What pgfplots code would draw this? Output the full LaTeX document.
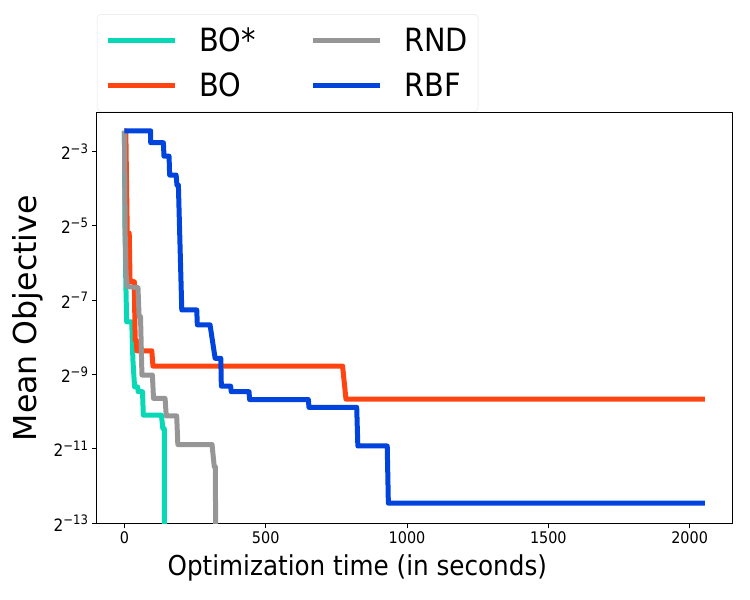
\documentclass[border=0pt]{standalone}
\usepackage{fontspec}
\setmainfont{DejaVu Sans}
\newfontfamily\cond{DejaVu Sans Condensed}
\usepackage{pgfplots}
\pgfplotsset{compat=1.18}
\definecolor{cBOs}{RGB}{8,216,182}
\definecolor{cBO}{RGB}{255,68,17}
\definecolor{cRND}{RGB}{150,150,150}
\definecolor{cRBF}{RGB}{0,68,221}
\pgfplotstableread{
x y
0 -2.44
2 -5.0
5 -6.53
8 -7.58
26 -7.58
30 -8.6
36 -9.33
47 -9.33
49 -9.46
64 -9.46
67 -10.09
131 -10.09
136 -10.45
141 -10.45
143 -20
}\bostar
\pgfplotstableread{
x y
0 -2.44
5 -2.44
10 -5.19
17 -5.19
20 -6.5
35 -6.5
38 -8.07
42 -8.07
44 -8.36
97 -8.36
101 -8.77
772 -8.77
784 -9.66
2054 -9.66
}\bo
\pgfplotstableread{
x y
0 -2.44
3 -5.3
6 -6.3
10 -6.63
48 -6.66
52 -7.44
57 -7.44
62 -9.01
99 -9.01
103 -9.64
144 -9.64
148 -10.11
185 -10.11
189 -10.88
310 -10.88
318 -11.48
322 -11.48
325 -20
}\rnd
\pgfplotstableread{
x y
0 -2.44
93 -2.44
93 -2.76
138 -2.76
140 -3.12
158 -3.12
160 -3.63
183 -3.63
186 -3.90
191 -3.90
203 -7.26
256 -7.26
258 -7.66
303 -7.66
321 -8.56
341 -8.56
343 -9.31
376 -9.31
378 -9.46
441 -9.46
443 -9.67
651 -9.67
653 -9.88
822 -9.88
826 -10.92
930 -10.92
934 -12.46
2054 -12.46
}\rbf
\newcommand{\sps}[1]{\textsuperscript{\fontsize{13bp}{15bp}\selectfont #1}}
\begin{document}
\begin{tikzpicture}
\path[use as bounding box] (-97bp,-76.7bp) rectangle (653bp,523.3bp);
\begin{axis}[
  at={(0,0)}, anchor=south west, scale only axis,
  width=635bp, height=410.3bp,
  xmin=-97, xmax=2150, ymin=-13, ymax=-1.96,
  xtick={0,500,1000,1500,2000},
  xticklabels={0,500,1000,1500,2000},
  ytick={-13,-11,-9,-7,-5,-3},
  yticklabels={2\sps{−13},2\sps{−11},2\sps{−9},2\sps{−7},2\sps{−5},2\sps{−3}},
  tick align=outside, tick pos=left, major tick length=5bp,
  every tick/.style={black, line width=1bp},
  axis line style={line width=1bp},
  xticklabel style={font=\cond\fontsize{16bp}{19bp}\selectfont},
  yticklabel style={font=\cond\fontsize{17bp}{20bp}\selectfont},
  xlabel={Optimization time (in seconds)},
  ylabel={Mean Objective},
  every axis x label/.style={at={(axis description cs:0.41,-0.128)}, anchor=base, font=\cond\fontsize{27.4bp}{32bp}\selectfont},
  every axis y label/.style={at={(axis description cs:-0.0945,0.5)}, anchor=base, rotate=90, font=\fontsize{31.6bp}{36bp}\selectfont},
  legend columns=2,
  legend cell align=left,
  legend image code/.code={\draw[#1, line width=5bp] (0bp,0bp) -- (67bp,0bp);},
  legend style={at={(0,1)}, anchor=south west, yshift=1bp,
    draw=black!10, rounded corners=4bp, inner xsep=8bp, inner ysep=11.5bp,
    font=\cond\fontsize{32bp}{38bp}\selectfont,
    column sep=20bp, row sep=16bp,
    /tikz/every even column/.append style={column sep=53bp}},
  line join=round,
]
\addlegendimage{cBOs}\addlegendentry{BO*}
\addlegendimage{cRND}\addlegendentry{RND}
\addlegendimage{cBO}\addlegendentry{BO}
\addlegendimage{cRBF}\addlegendentry{RBF}
\addplot[cBOs, line width=5bp, forget plot] table {\bostar};
\addplot[cBO, line width=5bp, forget plot] table {\bo};
\addplot[cRND, line width=5bp, forget plot] table {\rnd};
\addplot[cRBF, line width=5bp, forget plot] table {\rbf};
\end{axis}
\end{tikzpicture}
\end{document}
